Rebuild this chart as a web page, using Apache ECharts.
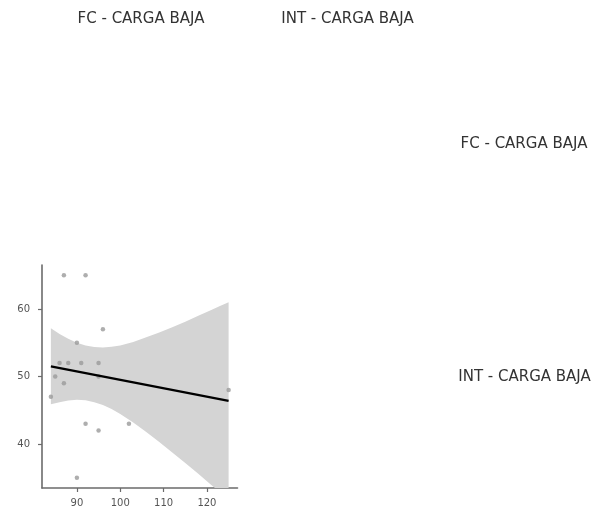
<!DOCTYPE html>
<html>
<head>
<meta charset="utf-8">
<script src="https://cdn.jsdelivr.net/npm/echarts@6/dist/echarts.min.js"></script>
<style>html,body{margin:0;padding:0;background:#fff;}#c{width:594px;height:508px;}</style>
</head>
<body>
<div id="c"></div>
<script>
// Strip labels
const colLabels = ["FC - CARGA BAJA", "INT - CARGA BAJA"];
const rowLabels = ["FC - CARGA BAJA", "INT - CARGA BAJA"];

// Scatter points (x = FC, y = INT)
const pointsX = [87, 92, 96, 90, 86, 88, 91, 95, 85, 87, 95, 84, 92, 95, 102, 90, 125];
const pointsY = [65, 65, 57, 55, 52, 52, 52, 52, 50, 49, 50, 47, 43, 42, 43, 35, 48];

// Fitted line
const fitX = [84, 125];
const fitY = [51.5, 46.4];

// Confidence band
const bandX  = [84, 86, 88, 90, 92, 94, 96, 98, 100, 103, 106, 109, 112, 115, 118, 121, 123, 125];
const bandLo = [45.9, 46.2, 46.45, 46.55, 46.5, 46.2, 45.8, 45.2, 44.45, 43.2, 41.8, 40.3, 38.75, 37.2, 35.6, 33.95, 32.9, 31.8];
const bandHi = [57.15, 56.3, 55.6, 55.0, 54.6, 54.35, 54.3, 54.4, 54.6, 55.1, 55.8, 56.5, 57.3, 58.1, 59.0, 59.85, 60.45, 61.0];

// Axis ticks
const xTicks = [90, 100, 110, 120];
const yTicks = [40, 50, 60];

const chart = echarts.init(document.getElementById('c'), null, {renderer: 'canvas'});

const axisColor = '#6b6b6b';
const labelStyle = {color: '#555', fontFamily: 'DejaVu Sans', fontSize: 10};
const stripFont = '15px "DejaVu Sans"';

const option = {
  animation: false,
  backgroundColor: '#fff',
  grid: {left: 42, right: 356.5, top: 265, bottom: 19.2, containLabel: false},
  xAxis: {
    type: 'value', min: 81.95, max: 127.05,
    splitLine: {show: false},
    axisLine: {show: true, lineStyle: {color: axisColor, width: 1.6}},
    axisTick: {show: true, length: 4, lineStyle: {color: axisColor, width: 1.2}, customValues: xTicks},
    axisLabel: Object.assign({margin: 10, customValues: xTicks}, labelStyle)
  },
  yAxis: {
    type: 'value', min: 33.5, max: 66.5,
    splitLine: {show: false},
    axisLine: {show: true, lineStyle: {color: axisColor, width: 1.6}},
    axisTick: {show: true, length: 4, lineStyle: {color: axisColor, width: 1.2}, customValues: yTicks},
    axisLabel: Object.assign({margin: 12, customValues: yTicks}, labelStyle)
  },
  series: [
    {
      type: 'custom', silent: true, z: 1,
      data: [0],
      renderItem: function (params, api) {
        const pts = [];
        for (let i = 0; i < bandX.length; i++) pts.push(api.coord([bandX[i], bandHi[i]]));
        for (let i = bandX.length - 1; i >= 0; i--) pts.push(api.coord([bandX[i], bandLo[i]]));
        const cs = params.coordSys;
        return {
          type: 'polygon',
          shape: {points: pts},
          style: {fill: '#d4d4d4', stroke: null},
          clipPath: {type: 'rect', shape: {x: cs.x, y: cs.y, width: cs.width, height: cs.height}}
        };
      }
    },
    {
      type: 'scatter', symbolSize: 4.5,
      data: pointsX.map((x, i) => [x, pointsY[i]]),
      itemStyle: {color: '#9a9a9a'}, z: 2
    },
    {
      type: 'line', symbol: 'none',
      data: fitX.map((x, i) => [x, fitY[i]]),
      lineStyle: {color: '#000', width: 2.2}, z: 3
    }
  ],
  graphic: [
    {type: 'text', x: 141, y: 19, style: {text: colLabels[0], fill: '#333', font: stripFont, align: 'center', verticalAlign: 'middle'}},
    {type: 'text', x: 347.5, y: 19, style: {text: colLabels[1], fill: '#333', font: stripFont, align: 'center', verticalAlign: 'middle'}},
    {type: 'text', x: 524, y: 144, style: {text: rowLabels[0], fill: '#333', font: stripFont, align: 'center', verticalAlign: 'middle'}},
    {type: 'text', x: 524.5, y: 377, style: {text: rowLabels[1], fill: '#333', font: stripFont, align: 'center', verticalAlign: 'middle'}}
  ]
};
chart.setOption(option);
</script>
</body>
</html>
